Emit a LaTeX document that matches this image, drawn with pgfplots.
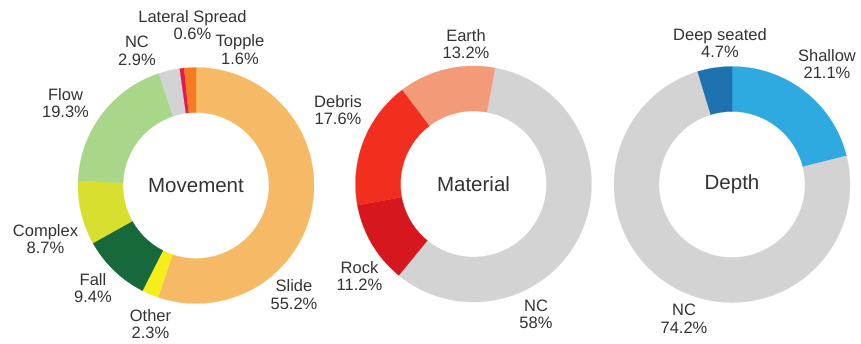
\documentclass[border=0pt]{standalone}
\usepackage{pgfplots}
\usepackage{pgfplotstable}
\pgfplotsset{compat=1.18}
\usepackage{fontspec}
\setmainfont{Liberation Sans}

\definecolor{txt}{HTML}{333333}
\definecolor{cSlide}{HTML}{F6BA66}
\definecolor{cOther}{HTML}{F5EE1B}
\definecolor{cFall}{HTML}{17683B}
\definecolor{cComplex}{HTML}{D8DF2E}
\definecolor{cFlow}{HTML}{A9D78A}
\definecolor{cNC}{HTML}{D3D3D3}
\definecolor{cLat}{HTML}{E8174E}
\definecolor{cTopple}{HTML}{F47B20}
\definecolor{cEarth}{HTML}{F39B78}
\definecolor{cDebris}{HTML}{F22E1E}
\definecolor{cRock}{HTML}{D6181E}
\definecolor{cShallow}{HTML}{2EAAE1}
\definecolor{cDeep}{HTML}{1F72B0}

% label, percentage, colour, label position (x, y from top)
\pgfplotstableread[col sep=comma]{
label,value,color,lx,ly
Slide,55.2,cSlide,294,294.5
Other,2.3,cOther,150.5,324
Fall,9.4,cFall,93,288
Complex,8.7,cComplex,45.5,239
Flow,19.3,cFlow,65.5,103
NC,2.9,cNC,137,51
Lateral Spread,0.6,cLat,192.5,25
Topple,1.6,cTopple,240,49.5
}\movement

\pgfplotstableread[col sep=comma]{
label,value,color,lx,ly
NC,58,cNC,536,314.5
Rock,11.2,cRock,359.5,276
Debris,17.6,cDebris,338,110
Earth,13.2,cEarth,466,44
}\material

\pgfplotstableread[col sep=comma]{
label,value,color,lx,ly
Shallow,21.1,cShallow,827,64
NC,74.2,cNC,684,319
Deep seated,4.7,cDeep,720,43.3
}\depth

\newcommand{\donut}[5]{%
  \pgfplotstablegetrowsof{#1}%
  \pgfmathtruncatemacro{\lastrow}{\pgfplotsretval-1}%
  \xdef\cumang{#4}%
  \path (axis cs:#2,#3) coordinate (dc);
  \foreach \i in {0,...,\lastrow}{%
    \pgfplotstablegetelem{\i}{value}\of{#1}\let\val\pgfplotsretval
    \pgfplotstablegetelem{\i}{color}\of{#1}\let\col\pgfplotsretval
    \pgfplotstablegetelem{\i}{label}\of{#1}\let\lab\pgfplotsretval
    \pgfplotstablegetelem{\i}{lx}\of{#1}\let\lx\pgfplotsretval
    \pgfplotstablegetelem{\i}{ly}\of{#1}\let\ly\pgfplotsretval
    \pgfmathsetmacro{\aA}{90-\cumang}%
    \pgfmathsetmacro{\aB}{90-\cumang-3.6*\val}%
    \fill[fill=\col, draw=\col, line width=0.2pt]
      ([shift={(\aA:118pt)}]dc) arc[start angle=\aA, end angle=\aB, radius=118pt]
      -- ([shift={(\aB:73pt)}]dc) arc[start angle=\aB, end angle=\aA, radius=73pt] -- cycle;
    \node[align=center, text=txt, inner sep=0pt, font=\fontsize{16.5}{17.5}\selectfont]
      at (axis cs:\lx,\ly) {\lab\\\val\%};
    \pgfmathsetmacro{\tmp}{\cumang+3.6*\val}\xdef\cumang{\tmp}%
  }%
  \node[text=txt, font=\fontsize{20.5}{24}\selectfont] at (axis cs:#2,#3) {#5};
}

\begin{document}
\begin{tikzpicture}
\begin{axis}[width=861pt, height=343pt, scale only axis,
  xmin=0, xmax=861, ymin=0, ymax=343, y dir=reverse,
  hide axis, clip=false]
\pgfplotsextra{\donut{\movement}{196}{185.5}{0}{Movement}}
\pgfplotsextra{\donut{\material}{473.5}{184}{10.5}{Material}}
\pgfplotsextra{\donut{\depth}{732}{184.5}{0}{Depth}}
\end{axis}
\pgfresetboundingbox
\path (current axis.south west) rectangle (current axis.north east);
\end{tikzpicture}
\end{document}
